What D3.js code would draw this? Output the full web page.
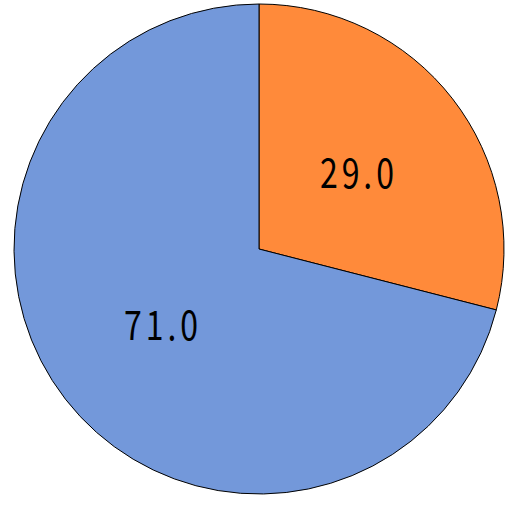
<!DOCTYPE html>
<html>
<head>
<meta charset="utf-8">
<script src="https://cdn.jsdelivr.net/npm/d3@7"></script>
<style>
  html, body { margin: 0; padding: 0; background: #fff; }
</style>
</head>
<body>
<svg id="chart" width="532" height="508"></svg>
<script>
// slice data
const labels = ["A", "B"];
const values = [29.0, 71.0];
const colors = ["#ff8a3a", "#7398da"];

const svg = d3.select("#chart"),
  cx = 259,
  cy = 249,
  radius = 245;

const pie = d3.pie().sort(null).value(d => d)(values);

const arc = d3.arc().innerRadius(0).outerRadius(radius);
const labelArc = d3.arc().innerRadius(radius * 0.506).outerRadius(radius * 0.506);

const g = svg.append("g").attr("transform", "translate(" + cx + "," + cy + ")");

g.selectAll("path")
  .data(pie)
  .enter().append("path")
    .attr("d", arc)
    .attr("fill", (d, i) => colors[i])
    .attr("stroke", "#000")
    .attr("stroke-width", 1);

// narrow, evenly spaced gothic look
const sx = 0.8;
g.selectAll("text")
  .data(pie)
  .enter().append("text")
    .attr("transform", d => "translate(" + labelArc.centroid(d) + ") scale(" + sx + ",1)")
    .attr("text-anchor", "middle")
    .attr("dy", "0.37em")
    .attr("textLength", 74 / sx)
    .attr("lengthAdjust", "spacing")
    .style("font-family", "'Noto Sans CJK JP', sans-serif")
    .style("font-weight", 400)
    .style("font-size", "40px")
    .style("fill", "#000")
    .text(d => d.data.toFixed(1));
</script>
</body>
</html>
